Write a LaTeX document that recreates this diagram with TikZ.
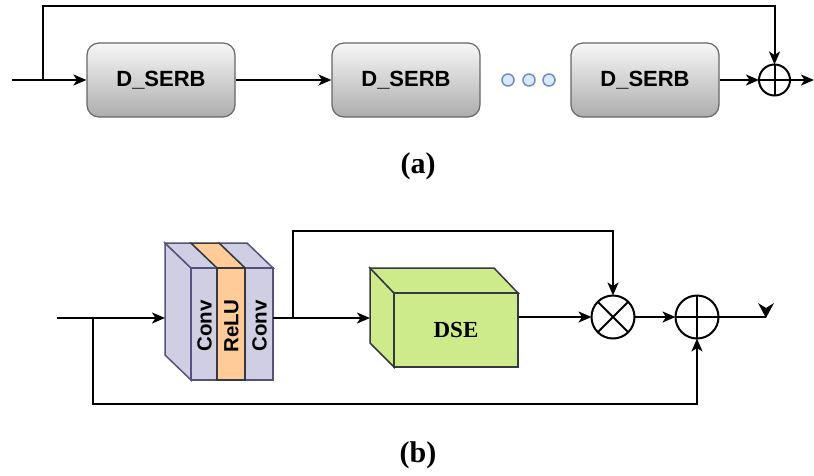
\documentclass[tikz,border=0pt]{standalone}
\usepackage{fontspec}
\setmainfont{Liberation Serif}
\setsansfont{Liberation Sans}
\usetikzlibrary{arrows.meta}

\definecolor{convfill}{HTML}{D0CEE2}
\definecolor{convline}{HTML}{56517E}
\definecolor{relufill}{HTML}{FFCC99}
\definecolor{darkline}{HTML}{36393D}
\definecolor{dsefill}{HTML}{CDEB8B}
\definecolor{dotfill}{HTML}{DAE8FC}
\definecolor{dotline}{HTML}{6C8EBF}

\begin{document}
\begin{tikzpicture}[x=1pt,y=-1pt,
  wire/.style={line width=2pt},
  arr/.style={wire,-{Stealth[length=13pt,width=11pt,inset=3.5pt]}},
  serb/.style={draw=black!60, line width=1.2pt, rounded corners=12pt,
    top color=black!3, bottom color=black!32,
    minimum width=148pt, minimum height=74pt, inner sep=0pt,
    font=\sffamily\bfseries\fontsize{22}{22}\selectfont},
  dotc/.style={circle, draw=dotline, fill=dotfill, line width=1.5pt,
    minimum size=12pt, inner sep=0pt},
  opc/.style={circle, draw, line width=2pt, inner sep=0pt, outer sep=0pt},
  slab/.style={draw=convline, fill=convfill, line width=1.5pt},
  reluslab/.style={draw=darkline, fill=relufill, line width=1.5pt},
  slabtext/.style={rotate=90, inner sep=0pt,
    font=\sffamily\bfseries\fontsize{20.5}{20.5}\selectfont},
  dseface/.style={draw=darkline, fill=dsefill, line width=1.5pt},
  caption/.style={font=\bfseries\fontsize{30}{30}\selectfont}]
\useasboundingbox (0,0) rectangle (814,475);

% ---------------- (a) chain of D_SERB blocks ----------------
\node[serb] (b1) at (161,80) {D\_SERB};
\node[serb] (b2) at (406,80) {D\_SERB};
\node[serb] (b3) at (645,80) {D\_SERB};
\node[dotc] (d1) at (508,80) {};
\node[dotc] (d2) at (529,80) {};
\node[dotc] (d3) at (549,80) {};
\node[opc, minimum size=31pt] (s1) at (774.5,80) {};
\draw[line width=2pt] (s1.north) -- (s1.south) (s1.west) -- (s1.east);

\coordinate (ina) at (12,80);
\coordinate (fa) at (43,80);
\coordinate (outa) at (814,80);
\draw[arr] (ina) -- (b1);
\draw[arr] (b1) -- (b2);
\draw[arr] (b3) -- (s1);
\draw[arr] (s1) -- (outa);
\draw[arr] (fa) -- (fa |- 0,6) -| (s1.north);

\node[caption] (capa) at (418,166) {(a)};

% ---------------- (b) D_SERB internals ----------------
% Conv-ReLU-Conv stack: left side, tops, then front faces
\draw[slab] (191,268) -- (165,243) -- (165,355) -- (191,380) -- cycle;
\draw[slab] (191,268) -- (217,268) -- (191,243) -- (165,243) -- cycle;
\draw[slab] (245,268) -- (273,268) -- (247,243) -- (219,243) -- cycle;
\draw[reluslab] (217,268) -- (245,268) -- (219,243) -- (191,243) -- cycle;
\draw[slab] (191,268) rectangle (217,380);
\draw[slab] (245,268) rectangle (273,380);
\draw[reluslab] (217,268) rectangle (245,380);
\node[slabtext] (c1) at (204.5,326) {Conv};
\node[slabtext] (c2) at (231.5,326) {ReLU};
\node[slabtext] (c3) at (259.5,326) {Conv};

% DSE cube
\draw[dseface] (394,293) -- (370,268) -- (370,343) -- (394,367) -- cycle;
\draw[dseface] (394,293) -- (518,293) -- (494,268) -- (370,268) -- cycle;
\node[dseface, minimum width=124pt, minimum height=74pt, inner sep=0pt,
  font=\bfseries\fontsize{23}{23}\selectfont] (dse) at (456,330) {DSE};

\node[opc, minimum size=43pt] (mul) at (613,317) {};
\draw[line width=2pt] (mul.north east) -- (mul.south west)
  (mul.north west) -- (mul.south east);
\node[opc, minimum size=43pt] (add) at (697,317) {};
\draw[line width=2pt] (add.north) -- (add.south) (add.west) -- (add.east);

\coordinate (inb) at (57,318);
\coordinate (br2) at (93,318);
\coordinate (convin) at (165,318);
\coordinate (convout) at (273,318);
\coordinate (br1) at (293,318);
\coordinate (dsein) at (370,318);
\coordinate (outb) at (766,317);

\draw[arr] (inb) -- (convin);
\draw[arr] (br2) -- (br2 |- 0,404) -| (add.south);
\draw[arr] (convout) -- (dsein);
\draw[arr] (br1) -- (br1 |- 0,231) -| (mul.north);
\draw[arr] (dse.east |- mul.west) -- (mul.west);
\draw[arr] (mul) -- (add);
\draw[wire] (add) -- (outb);
\fill (outb) ++(0,1) -- ++(-8,-15) -- ++(8,5) -- ++(8,-5) -- cycle;

\node[caption] (capb) at (418,455) {(b)};
\end{tikzpicture}
\end{document}
